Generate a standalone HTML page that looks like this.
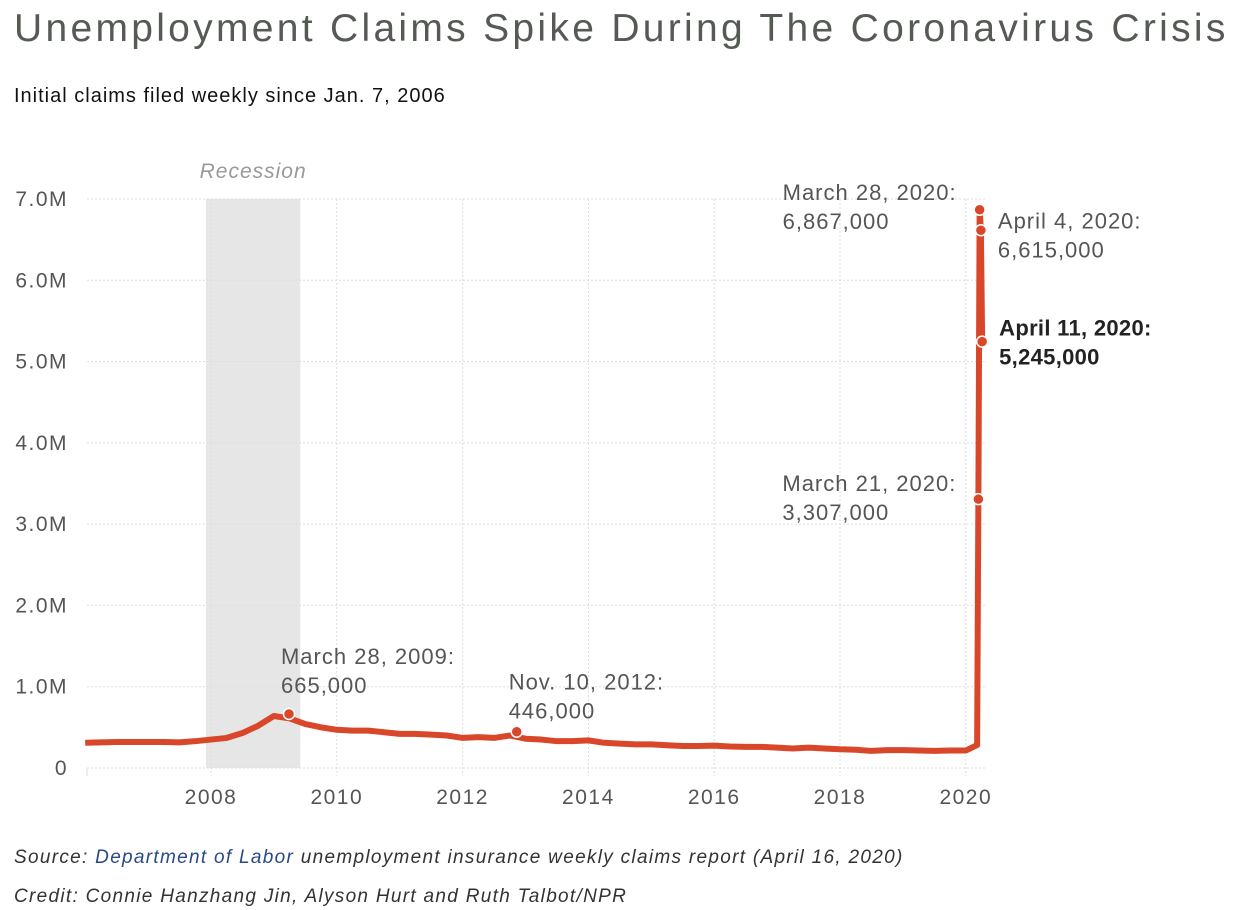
<!DOCTYPE html>
<html><head><meta charset="utf-8"><style>
body{margin:0;background:#fff;width:1254px;height:910px;overflow:hidden;font-family:"Liberation Sans",sans-serif}
.t{position:absolute;white-space:nowrap}
</style></head><body>
<div class="t" style="left:14px;top:7px;font-size:39px;color:#555a55;letter-spacing:3.3px">Unemployment Claims Spike During The Coronavirus Crisis</div>
<div class="t" style="left:14px;top:85px;font-size:20px;color:#111;letter-spacing:1px">Initial claims filed weekly since Jan. 7, 2006</div>
<svg width="1254" height="910" style="position:absolute;left:0;top:0" id="chart"></svg>
<div class="t" style="left:14px;top:847px;font-size:19px;font-style:italic;color:#333;letter-spacing:1.3px">Source: <span style="color:#2a4a86">Department of Labor</span> unemployment insurance weekly claims report (April 16, 2020)</div>
<div class="t" style="left:14px;top:886px;font-size:19px;font-style:italic;color:#333;letter-spacing:1.3px">Credit: Connie Hanzhang Jin, Alyson Hurt and Ruth Talbot/NPR</div>
<script>
const yTicks=[0,1,2,3,4,5,6,7];
const yTickLabels=["0","1.0M","2.0M","3.0M","4.0M","5.0M","6.0M","7.0M"];
const xTicks=[2008,2010,2012,2014,2016,2018,2020];
const quarterStart=2006.0;
const quarterly=[310,315,320,320,320,320,315,330,350,370,430,520,640,610,540,500,470,460,460,440,420,420,410,400,370,380,370,400,360,350,330,330,340,310,300,290,290,280,270,270,275,265,260,260,250,240,250,240,230,225,210,220,220,215,210,215,215];
const weekDates=[2020.18,2020.20,2020.22,2020.24,2020.26];
const weekVals=[282,3307,6867,6615,5245];
const recession=[2007.92,2009.42];
const annotations=[
 {x:2009.24,v:665,l1:"March 28, 2009:",l2:"665,000",dx:-8,dy:-50,bold:false},
 {x:2012.86,v:446,l1:"Nov. 10, 2012:",l2:"446,000",dx:-8,dy:-42,bold:false},
 {x:2020.20,v:3307,l1:"March 21, 2020:",l2:"3,307,000",dx:-196,dy:-8,bold:false},
 {x:2020.22,v:6867,l1:"March 28, 2020:",l2:"6,867,000",dx:-197,dy:-10,bold:false},
 {x:2020.24,v:6615,l1:"April 4, 2020:",l2:"6,615,000",dx:17,dy:-2,bold:false},
 {x:2020.26,v:5245,l1:"April 11, 2020:",l2:"5,245,000",dx:17,dy:-6,bold:true}
];
const X=y=>211+(y-2008)*62.9;
const Y=v=>768-v/1000*81.29;
const svg=document.getElementById('chart');
const NS='http://www.w3.org/2000/svg';
function mk(tag,attrs){const e=document.createElementNS(NS,tag);for(const k in attrs)e.setAttribute(k,attrs[k]);svg.appendChild(e);return e;}
const rec=mk('rect',{x:X(recession[0]),y:Y(7000),width:X(recession[1])-X(recession[0]),height:Y(0)-Y(7000),fill:'#e6e6e6'});


const rl=mk('text',{x:(X(recession[0])+X(recession[1]))/2,y:178,'text-anchor':'middle','font-size':21,'font-style':'italic',fill:'#999','letter-spacing':1});
rl.textContent='Recession';


yTicks.forEach((t,i)=>{
 const g=mk('line',{x1:87,x2:985,y1:Y(t*1000),y2:Y(t*1000),stroke:'#ddd','stroke-dasharray':'2,2'});
 
 
 const tx=mk('text',{x:68,y:Y(t*1000)+7,'text-anchor':'end','font-size':21,fill:'#555','letter-spacing':1.5});
 tx.textContent=yTickLabels[i];
 
 
});
xTicks.forEach(t=>{
 const g=mk('line',{x1:X(t),x2:X(t),y1:Y(7000),y2:Y(0)+8,stroke:'#ddd','stroke-dasharray':'2,2'});
 
 
 const tx=mk('text',{x:X(t),y:804,'text-anchor':'middle','font-size':21,fill:'#555','letter-spacing':1.5});
 tx.textContent=String(t);
 
 
});
const t0=mk('line',{x1:87,x2:87,y1:Y(0),y2:Y(0)+8,stroke:'#ddd'});


let pts=quarterly.map((v,i)=>X(quarterStart+i*0.25)+','+Y(v));
weekVals.forEach((v,i)=>pts.push(X(weekDates[i])+','+Y(v)));
const line=mk('polyline',{points:pts.join(' '),fill:'none',stroke:'#d9472b','stroke-width':6,'stroke-linejoin':'round'});


annotations.forEach(a=>{
 const c=mk('circle',{cx:X(a.x),cy:Y(a.v),r:5.5,fill:'#d9472b',stroke:'#fff','stroke-width':1.5});
 
 
 const tx=X(a.x)+a.dx, ty=Y(a.v)+a.dy;
 [a.l1,a.l2].forEach((s,k)=>{
  const t=mk('text',{x:tx,y:ty+k*29,'text-anchor':'start','font-size':22,fill:a.bold?'#222':'#555','font-weight':a.bold?'bold':'normal','letter-spacing':a.bold?0.3:1});
  t.textContent=s;
  
  
 });
});
</script>
</body></html>
